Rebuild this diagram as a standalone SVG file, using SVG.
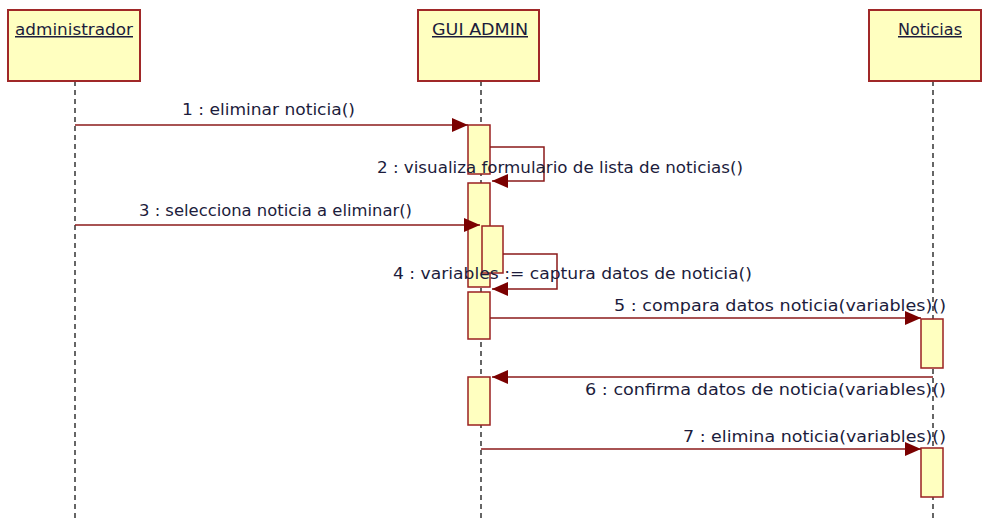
<svg xmlns="http://www.w3.org/2000/svg" width="984" height="523" viewBox="0 0 984 523">
<style>
.head{fill:#ffffc0;stroke:#a02828;stroke-width:2}
.bar{fill:#ffffc0;stroke:#9a2020;stroke-width:1.5}
.life{stroke:#000;stroke-width:1.2;stroke-dasharray:5 4;fill:none}
.msg{stroke:#8b1a1a;stroke-width:1.5;fill:none}
.t{font-family:"DejaVu Sans Condensed","DejaVu Sans","Liberation Sans",sans-serif;font-size:15px;fill:#1c1c3c}
.h{font-family:"DejaVu Sans Condensed","DejaVu Sans","Liberation Sans",sans-serif;font-size:15px;fill:#1c1c3c;text-decoration:underline}
</style>
<defs>
<marker id="ah" markerUnits="userSpaceOnUse" markerWidth="17" markerHeight="15" refX="16" refY="7" orient="auto">
<path d="M0,0 L16,7 L0,14 z" fill="#7a0000"/>
</marker>
</defs>
<g id="lifelines">
<line class="life" x1="75" y1="81" x2="75" y2="520"/>
<line class="life" x1="481" y1="81" x2="481" y2="520"/>
<line class="life" x1="933" y1="81" x2="933" y2="520"/>
</g>
<g id="administrador">
<rect class="head" x="8" y="10" width="132" height="71"/>
<text class="h" x="15" y="35" textLength="118" lengthAdjust="spacingAndGlyphs">administrador</text>
</g>
<g id="gui_admin">
<rect class="head" x="418" y="10" width="121" height="71"/>
<text class="h" x="432" y="35" textLength="96" lengthAdjust="spacingAndGlyphs">GUI ADMIN</text>
<rect class="bar" x="468" y="125" width="22" height="49"/>
<rect class="bar" x="468" y="183" width="22" height="104"/>
<rect class="bar" x="482" y="226" width="21" height="47"/>
<rect class="bar" x="468" y="292" width="22" height="47"/>
<rect class="bar" x="468" y="377" width="22" height="48"/>
</g>
<g id="noticias">
<rect class="head" x="869" y="10" width="112" height="71"/>
<text class="h" x="898" y="35" textLength="64" lengthAdjust="spacingAndGlyphs">Noticias</text>
<rect class="bar" x="921" y="319" width="22" height="49"/>
<rect class="bar" x="921" y="448" width="22" height="49"/>
</g>
<g id="connectors">
<line class="msg" x1="75" y1="125" x2="468" y2="125" marker-end="url(#ah)"/>
<polyline class="msg" points="490,147 544,147 544,181 492,181" marker-end="url(#ah)"/>
<line class="msg" x1="75" y1="225" x2="480" y2="225" marker-end="url(#ah)"/>
<polyline class="msg" points="503,254 557,254 557,289 492,289" marker-end="url(#ah)"/>
<line class="msg" x1="490" y1="318" x2="921" y2="318" marker-end="url(#ah)"/>
<line class="msg" x1="933" y1="377" x2="492" y2="377" marker-end="url(#ah)"/>
<line class="msg" x1="481" y1="449" x2="921" y2="449" marker-end="url(#ah)"/>
</g>
<g id="labels">
<text class="t" x="182" y="115" textLength="173" lengthAdjust="spacingAndGlyphs">1 : eliminar noticia()</text>
<text class="t" x="377" y="173" textLength="366" lengthAdjust="spacingAndGlyphs">2 : visualiza formulario de lista de noticias()</text>
<text class="t" x="139" y="216" textLength="273" lengthAdjust="spacingAndGlyphs">3 : selecciona noticia a eliminar()</text>
<text class="t" x="393" y="279" textLength="359" lengthAdjust="spacingAndGlyphs">4 : variables := captura datos de noticia()</text>
<text class="t" x="614" y="311" textLength="332" lengthAdjust="spacingAndGlyphs">5 : compara datos noticia(variables)()</text>
<text class="t" x="585" y="395" textLength="361" lengthAdjust="spacingAndGlyphs">6 : confirma datos de noticia(variables)()</text>
<text class="t" x="683" y="442" textLength="263" lengthAdjust="spacingAndGlyphs">7 : elimina noticia(variables)()</text>
</g>
</svg>
